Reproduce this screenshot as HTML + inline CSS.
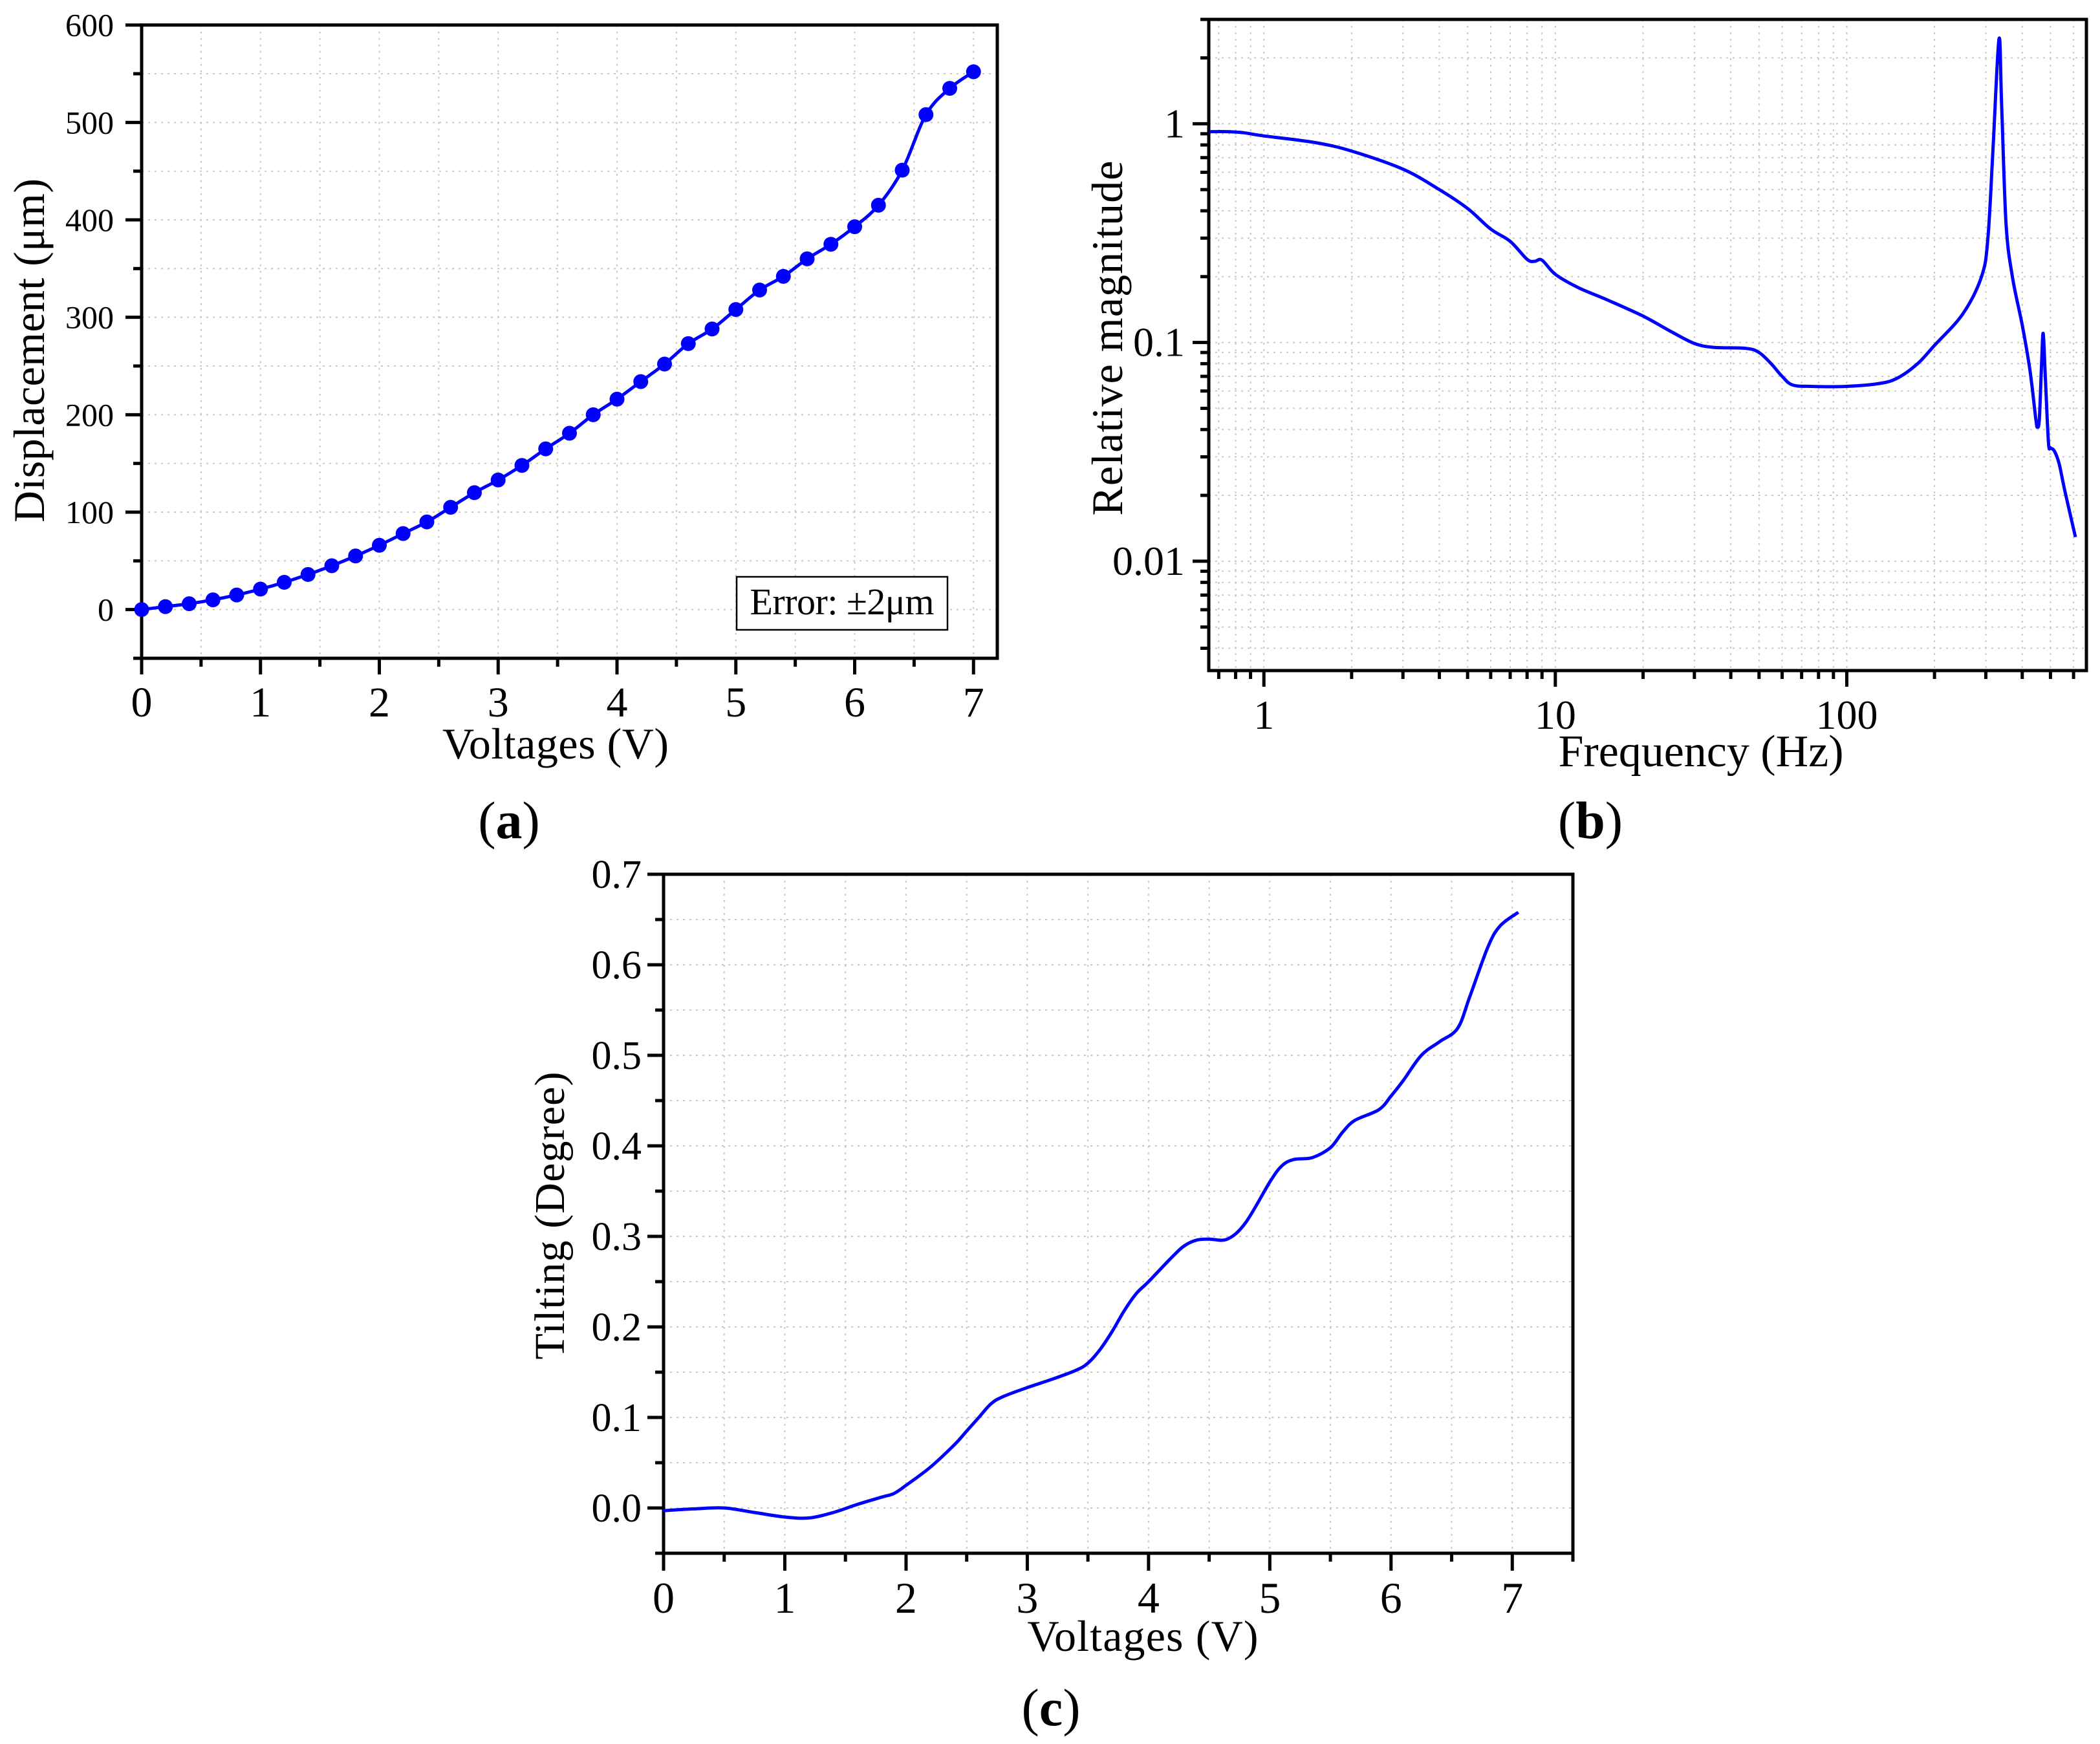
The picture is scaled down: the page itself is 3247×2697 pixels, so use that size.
<!DOCTYPE html>
<html><head><meta charset="utf-8"><style>
html,body{margin:0;padding:0;background:#fff;}
svg{display:block;}
text{font-family:"Liberation Serif",serif;fill:#000;}
</style></head><body>
<svg id="fig" xmlns="http://www.w3.org/2000/svg" width="3247" height="2697" viewBox="0 0 3247 2697">
<g id="pa"></g>
<g id="pb"></g>
<g id="pc"></g>
</svg>
<script>
// Panel (a) data
const aVolt = [0,0.2,0.4,0.6,0.8,1,1.2,1.4,1.6,1.8,2,2.2,2.4,2.6,2.8,3,3.2,3.4,3.6,3.8,4,4.2,4.4,4.6,4.8,5,5.2,5.4,5.6,5.8,6,6.2,6.4,6.6,6.8,7];
const aDisp = [0,3,6,10,15,21,28,36,45,55,66,78,90,105,120,133,148,165,181,200,216,234,252,273,288,308,328,342,360,375,393,415,451,508,535,552];
const aXTicks = [0,1,2,3,4,5,6,7];
const aYTicks = [0,100,200,300,400,500,600];
// Panel (b) data
const bFreq = [0.65,0.75,0.85,1,1.5,2,3,4,5,6,7,8,8.5,9,10,12,15,20,25,30,35,45,50,55,60,65,75,100,130,150,175,200,250,290,305,318,333,340,352,370,400,425,445,451,458,466,472,480,492,500,515,535,560,609];
const bMag = [0.92,0.92,0.91,0.88,0.82,0.75,0.62,0.5,0.41,0.33,0.29,0.24,0.235,0.238,0.205,0.178,0.157,0.132,0.112,0.099,0.095,0.094,0.09,0.08,0.07,0.064,0.063,0.063,0.065,0.069,0.08,0.097,0.135,0.2,0.3,0.8,2.45,1.2,0.35,0.2,0.12,0.075,0.045,0.041,0.045,0.08,0.11,0.07,0.035,0.033,0.032,0.028,0.021,0.0129];
const bXTicks = [1,10,100];
const bXTickLabels = ["1","10","100"];
const bYTicks = [0.01,0.1,1];
const bYTickLabels = ["0.01","0.1","1"];
// Panel (c) data
const cVolt = [0,0.25,0.5,0.75,1.0,1.2,1.4,1.6,1.8,1.9,2.0,2.2,2.4,2.5,2.6,2.7,2.8,3.0,3.2,3.4,3.5,3.6,3.7,3.8,3.9,4.0,4.2,4.3,4.4,4.5,4.65,4.8,5.0,5.1,5.2,5.35,5.5,5.6,5.7,5.9,6.0,6.1,6.25,6.4,6.55,6.65,6.8,6.9,7.05];
const cTilt = [-0.003,-0.001,0.0,-0.005,-0.01,-0.011,-0.005,0.004,0.012,0.016,0.025,0.045,0.07,0.085,0.1,0.115,0.123,0.133,0.142,0.152,0.16,0.175,0.195,0.218,0.237,0.25,0.278,0.29,0.296,0.297,0.297,0.315,0.36,0.378,0.385,0.387,0.398,0.415,0.428,0.44,0.455,0.472,0.5,0.515,0.53,0.565,0.62,0.643,0.658];
const cXTicks = [0,1,2,3,4,5,6,7];
const cYTicks = [0,0.1,0.2,0.3,0.4,0.5,0.6,0.7];

const NS = "http://www.w3.org/2000/svg";
function mk(parent, tag, attrs, txt){
  const e = document.createElementNS(NS, tag);
  for (const k in attrs) e.setAttribute(k, attrs[k]);
  if (txt !== undefined) e.textContent = txt;
  parent.appendChild(e);
  return e;
}
function smooth(pts){
  let d = "M" + pts[0][0].toFixed(1) + "," + pts[0][1].toFixed(1);
  for (let i = 0; i < pts.length - 1; i++){
    const p0 = pts[Math.max(0,i-1)], p1 = pts[i], p2 = pts[i+1], p3 = pts[Math.min(pts.length-1,i+2)];
    const c1x = p1[0] + (p2[0]-p0[0])/6, c1y = p1[1] + (p2[1]-p0[1])/6;
    const c2x = p2[0] - (p3[0]-p1[0])/6, c2y = p2[1] - (p3[1]-p1[1])/6;
    d += " C" + c1x.toFixed(1)+","+c1y.toFixed(1)+" "+c2x.toFixed(1)+","+c2y.toFixed(1)+" "+p2[0].toFixed(1)+","+p2[1].toFixed(1);
  }
  return d;
}
const GRID = {stroke:"#c8c8c8","stroke-width":2,"stroke-dasharray":"3,7"};

// ---------- Panel A ----------
(function(){
  const g = document.getElementById("pa");
  const L=219, R=1542, T=38.7, B=1018;
  const xmin=0, xmax=7.2, ymin=-50, ymax=600;
  const X = v => L + (v-xmin)/(xmax-xmin)*(R-L);
  const Y = v => B - (v-ymin)/(ymax-ymin)*(B-T);
  for (let v=0.5; v<xmax; v+=0.5){ const l=mk(g,"line",Object.assign({x1:X(v),x2:X(v),y1:T,y2:B},GRID));   }
  for (let v=0; v<ymax; v+=50){ const l=mk(g,"line",Object.assign({x1:L,x2:R,y1:Y(v),y2:Y(v)},GRID));   }
  for (let v=0; v<=xmax+1e-9; v+=0.5){
    const major = Math.abs(v-Math.round(v))<1e-9;
    const t=mk(g,"line",{x1:X(v),x2:X(v),y1:B,y2:B+(major?25:13),stroke:"#000","stroke-width":5});
     
  }
  for (let v=-50; v<=ymax; v+=50){
    const major = v%100===0;
    const t=mk(g,"line",{x1:L,x2:L-(major?25:13),y1:Y(v),y2:Y(v),stroke:"#000","stroke-width":5});
     
  }
  aXTicks.forEach(v=>{ const t=mk(g,"text",{x:X(v),y:1108,"font-size":66,"text-anchor":"middle"},String(v));   });
  aYTicks.forEach(v=>{ const t=mk(g,"text",{x:176,y:Y(v)+17,"font-size":50,"text-anchor":"end"},String(v));   });
  const fr=mk(g,"rect",{x:L,y:T,width:R-L,height:B-T,fill:"none",stroke:"#000","stroke-width":5});
   
  const pts = aVolt.map((v,i)=>[X(v),Y(aDisp[i])]);
  const ln=mk(g,"path",{d:smooth(pts),fill:"none",stroke:"#0000ff","stroke-width":5});
   
  pts.forEach(p=>{ const c=mk(g,"circle",{cx:p[0],cy:p[1],r:11.5,fill:"#0000ff"});   });
  const bx=mk(g,"rect",{x:1139,y:892,width:326,height:82,fill:"#fff",stroke:"#000","stroke-width":2.5});
   
  const et=mk(g,"text",{x:1302,y:950,"font-size":58,"text-anchor":"middle",textLength:285},"Error: ±2μm");
   
  const xt=mk(g,"text",{x:859,y:1173,"font-size":68,"text-anchor":"middle",textLength:350},"Voltages (V)");
   
  const yt=mk(g,"text",{x:0,y:0,"font-size":68,"text-anchor":"middle",textLength:532,transform:"translate(68,542) rotate(-90)"},"Displacement (μm)");
   
  const pl=mk(g,"text",{x:787,y:1296,"font-size":82,"text-anchor":"middle"});
   
  pl.innerHTML='(<tspan font-weight="bold">a</tspan>)';
})();

// ---------- Panel B ----------
(function(){
  const g = document.getElementById("pb");
  const L=1869, R=3226, T=30, B=1037;
  const lxmin=Math.log10(0.647), lxmax=Math.log10(10)+ (R-1954)/450.7 - 1;
  const lymin=-2.5, lymax=Math.log10(3);
  const X = v => L + (Math.log10(v)-lxmin)/(lxmax-lxmin)*(R-L);
  const Y = v => B - (Math.log10(v)-lymin)/(lymax-lymin)*(B-T);
  const xm=[]; for (let d=0.1; d<=100; d*=10) for (let k=1;k<=9;k++){ const v=k*d; if (v>=0.65 && v<=650) xm.push([v,k===1]); }
  const ym=[]; for (let d=0.001; d<=1; d*=10) for (let k=1;k<=9;k++){ const v=k*d; if (v>=0.0032 && v<=3.01) ym.push([v,k===1]); }
  xm.forEach(([v,maj])=>{ const l=mk(g,"line",Object.assign({x1:X(v),x2:X(v),y1:T,y2:B},GRID));  
    const t=mk(g,"line",{x1:X(v),x2:X(v),y1:B,y2:B+(maj?25:13),stroke:"#000","stroke-width":5});   });
  ym.forEach(([v,maj])=>{ const l=mk(g,"line",Object.assign({x1:L,x2:R,y1:Y(v),y2:Y(v)},GRID));  
    const t=mk(g,"line",{x1:L,x2:L-(maj?25:13),y1:Y(v),y2:Y(v),stroke:"#000","stroke-width":5});   });
  bXTicks.forEach((v,i)=>{ const t=mk(g,"text",{x:X(v),y:1127,"font-size":64,"text-anchor":"middle"},bXTickLabels[i]);   });
  bYTicks.forEach((v,i)=>{ const t=mk(g,"text",{x:1832,y:Y(v)+21,"font-size":64,"text-anchor":"end"},bYTickLabels[i]);   });
  const fr=mk(g,"rect",{x:L,y:T,width:R-L,height:B-T,fill:"none",stroke:"#000","stroke-width":5});
   
  const pts = bFreq.map((f,i)=>[X(f),Y(bMag[i])]);
  const ln=mk(g,"path",{d:smooth(pts),fill:"none",stroke:"#0000ff","stroke-width":5,"stroke-linejoin":"round"});
   
  const xt=mk(g,"text",{x:2630,y:1185,"font-size":70,"text-anchor":"middle",textLength:441},"Frequency (Hz)");
   
  const yt=mk(g,"text",{x:0,y:0,"font-size":68,"text-anchor":"middle",textLength:549,transform:"translate(1735,523) rotate(-90)"},"Relative magnitude");
   
  const pl=mk(g,"text",{x:2459,y:1296,"font-size":82,"text-anchor":"middle"});
   
  pl.innerHTML='(<tspan font-weight="bold">b</tspan>)';
})();

// ---------- Panel C ----------
(function(){
  const g = document.getElementById("pc");
  const L=1026, R=2432, T=1352, B=2402;
  const xmin=0, xmax=7.5, ymin=-0.05, ymax=0.7;
  const X = v => L + (v-xmin)/(xmax-xmin)*(R-L);
  const Y = v => B - (v-ymin)/(ymax-ymin)*(B-T);
  for (let v=0.5; v<xmax-1e-9; v+=0.5){ const l=mk(g,"line",Object.assign({x1:X(v),x2:X(v),y1:T,y2:B},GRID));   }
  for (let i=0; i<14; i++){ const v=i*0.05; const l=mk(g,"line",Object.assign({x1:L,x2:R,y1:Y(v),y2:Y(v)},GRID));   }
  for (let i=0; i<=15; i++){ const v=i*0.5; const major=i%2===0;
    const t=mk(g,"line",{x1:X(v),x2:X(v),y1:B,y2:B+(major?27:13),stroke:"#000","stroke-width":5});   }
  for (let i=-1; i<=14; i++){ const v=i*0.05; const major=(i%2===0);
    const t=mk(g,"line",{x1:L,x2:L-(major?25:13),y1:Y(v),y2:Y(v),stroke:"#000","stroke-width":5});   }
  cXTicks.forEach(v=>{ const t=mk(g,"text",{x:X(v),y:2494,"font-size":68,"text-anchor":"middle"},String(v));   });
  cYTicks.forEach(v=>{ const t=mk(g,"text",{x:992,y:Y(v)+21,"font-size":62,"text-anchor":"end"},v.toFixed(1));   });
  const fr=mk(g,"rect",{x:L,y:T,width:R-L,height:B-T,fill:"none",stroke:"#000","stroke-width":5});
   
  const pts = cVolt.map((v,i)=>[X(v),Y(cTilt[i])]);
  const ln=mk(g,"path",{d:smooth(pts),fill:"none",stroke:"#0000ff","stroke-width":5});
   
  const xt=mk(g,"text",{x:1767,y:2553,"font-size":68,"text-anchor":"middle",textLength:357},"Voltages (V)");
   
  const yt=mk(g,"text",{x:0,y:0,"font-size":66,"text-anchor":"middle",textLength:445,transform:"translate(872,1880) rotate(-90)"},"Tilting (Degree)");
   
  const pl=mk(g,"text",{x:1625,y:2668,"font-size":82,"text-anchor":"middle"});
   
  pl.innerHTML='(<tspan font-weight="bold">c</tspan>)';
})();
</script>
</body></html>
